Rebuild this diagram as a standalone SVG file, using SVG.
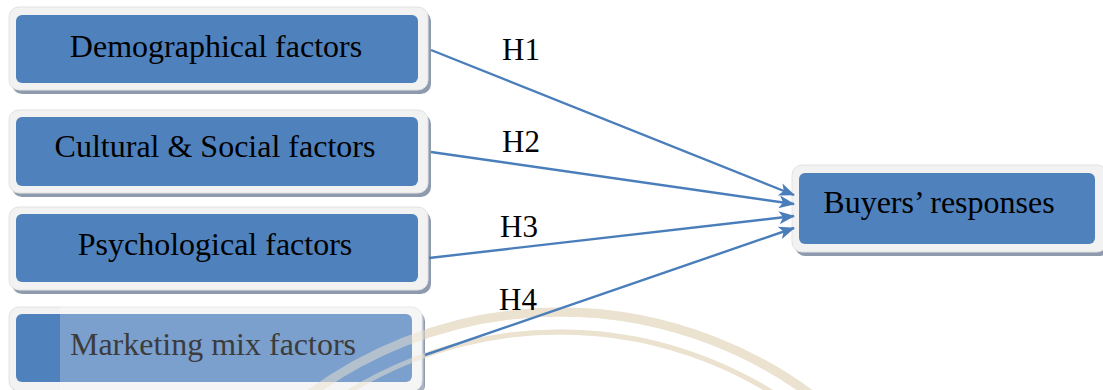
<svg xmlns="http://www.w3.org/2000/svg" width="1103" height="390" viewBox="0 0 1103 390">
  <defs>
    <style>
      .shadow { fill: #8e9aae; }
      .frame { fill: #f2f2f2; stroke: #e2e2e2; stroke-width: 1; }
      .box { fill: #4f81bd; }
      .label { font-family: "Liberation Serif", "Times New Roman", serif; font-size: 32px; fill: #000; text-anchor: middle; }
      .hyp { font-family: "Liberation Serif", "Times New Roman", serif; font-size: 31px; fill: #000; }
      .link { stroke: #4a7ebb; stroke-width: 2.4; fill: none; marker-end: url(#arrow); }
      .mark { fill: none; stroke: #ebe2cf; }
    </style>
    <marker id="arrow" viewBox="0 0 16 13" refX="15" refY="6.5" markerWidth="16" markerHeight="13" markerUnits="userSpaceOnUse" orient="auto">
      <path d="M0,0 L16,6.5 L0,13 L4,6.5 Z" fill="#4a7ebb"/>
    </marker>
  </defs>

  <rect width="1103" height="390" fill="#ffffff"/>

  <!-- faint arcs of the background seal -->
  <g id="seal">
    <circle class="mark" cx="560" cy="734" r="422" stroke-width="9"/>
    <circle class="mark" cx="560" cy="734" r="402" stroke-width="5"/>
  </g>

  <g id="demographical">
    <rect class="shadow" x="12" y="11" width="419" height="83" rx="10"/>
    <rect class="frame" x="9" y="7" width="419" height="83" rx="10"/>
    <rect class="box" x="16" y="15" width="402" height="68" rx="6"/>
    <text class="label" x="216" y="57">Demographical factors</text>
  </g>

  <g id="cultural-social">
    <rect class="shadow" x="12" y="114" width="419" height="83" rx="10"/>
    <rect class="frame" x="9" y="110" width="419" height="83" rx="10"/>
    <rect class="box" x="16" y="117" width="402" height="69" rx="6"/>
    <text class="label" x="215" y="157">Cultural &amp; Social factors</text>
  </g>

  <g id="psychological">
    <rect class="shadow" x="12" y="211" width="419" height="83" rx="10"/>
    <rect class="frame" x="9" y="207" width="419" height="83" rx="10"/>
    <rect class="box" x="16" y="214" width="402" height="68" rx="6"/>
    <text class="label" x="215" y="255">Psychological factors</text>
  </g>

  <g id="marketing-mix">
    <rect class="shadow" x="12" y="311" width="413" height="84" rx="10"/>
    <rect class="frame" x="9" y="307" width="413" height="84" rx="10"/>
    <rect class="box" x="16" y="314" width="396" height="68" rx="6"/>
    <!-- washed-out right part of the box -->
    <rect x="60" y="305" width="364" height="85" fill="#ffffff" opacity="0.25"/>
    <g opacity="0.5">
      <circle class="mark" cx="560" cy="734" r="422" stroke-width="9" stroke="#a89a80"/>
      <circle class="mark" cx="560" cy="734" r="402" stroke-width="5" stroke="#a89a80"/>
    </g>
    <text class="label" x="213" y="355" style="fill:#3c3c3c">Marketing mix factors</text>
  </g>

  <g id="buyers-responses">
    <rect class="shadow" x="795" y="169" width="315" height="87" rx="10"/>
    <rect class="frame" x="792" y="165" width="315" height="87" rx="10"/>
    <rect class="box" x="799" y="173" width="296" height="71" rx="6"/>
    <text class="label" x="939" y="213">Buyers’ responses</text>
  </g>

  <g id="connectors">
    <line class="link" x1="431" y1="50" x2="794" y2="195"/>
    <line class="link" x1="431" y1="152" x2="794" y2="204"/>
    <line class="link" x1="429" y1="258" x2="794" y2="216"/>
    <line class="link" x1="425" y1="355" x2="794" y2="228"/>
    <text class="hyp" x="502" y="60">H1</text>
    <text class="hyp" x="502" y="152">H2</text>
    <text class="hyp" x="500" y="237">H3</text>
    <text class="hyp" x="499" y="310">H4</text>
  </g>
</svg>
